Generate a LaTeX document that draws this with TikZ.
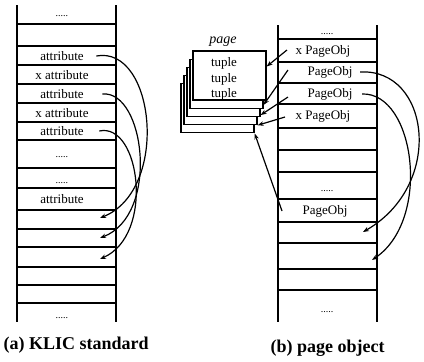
\documentclass[tikz,border=0pt]{standalone}
\usepackage{fontspec}
\setmainfont{Liberation Serif}
\usetikzlibrary{calc}
\usetikzlibrary{positioning}
\usetikzlibrary{arrows.meta}

\begin{document}
\begin{tikzpicture}[x=1pt,y=-1pt,line width=1.3pt,
    cell/.style={inner sep=0pt,font=\fontsize{13}{14}\selectfont},
    dots/.style={inner sep=0pt,anchor=base,font=\fontsize{10}{12}\selectfont},
    pagebox/.style={draw,fill=white,minimum width=73pt,minimum height=49pt,inner sep=0pt},
    link/.style={line width=1.2pt,-{Stealth[length=6pt,width=4.5pt]}},
    caption/.style={inner sep=0pt,anchor=west,font=\fontsize{18}{20}\selectfont\bfseries}]
\useasboundingbox (0,0) rectangle (424,362);
% (a) KLIC standard
\draw (17,5) -- (17,322);
\draw (116,5) -- (116,322);
\foreach \y in {24,46,65,84,103,122,140,168,188,210,229,247,267,285,303}
  \draw (17,\y) -- (116,\y);
\node[dots] (ad1) at (62,16) {.....};
\node[cell] (at1) at (62,56) {attribute};
\node[cell] (ax1) at (62,75) {x attribute};
\node[cell] (at2) at (62,94) {attribute};
\node[cell] (ax2) at (62,113) {x attribute};
\node[cell] (at3) at (62,131) {attribute};
\node[dots] (ad2) at (62,157) {.....};
\node[dots] (ad3) at (62,183) {.....};
\node[cell] (at4) at (62,199) {attribute};
\node[dots] (ad4) at (62,318) {.....};
\coordinate (ae1) at (100,218);
\coordinate (ae2) at (100,238);
\coordinate (ae3) at (100,259);
%
\draw[link] ([xshift=12pt]at1.east) .. controls (155,45) and (170,190) .. (ae1);
\draw[link] ([xshift=18pt]at2.east) .. controls (145,90) and (160,215) .. (ae2);
\draw[link] ([xshift=15pt]at3.east) .. controls (140,122) and (155,235) .. (ae3);
% (b) page object
\draw (278,25) -- (278,322);
\draw (377,25) -- (377,322);
\foreach \y in {39,62,83,104,128,150,172,199,222,243,269,290}
  \draw (278,\y) -- (377,\y);
\node[dots] (bd1) at (327,34) {.....};
\node[cell] (bx1) at (323,51) {x PageObj};
\node[cell] (bo1) at (330,72) {PageObj};
\node[cell] (bo2) at (330,94) {PageObj};
\node[cell] (bx2) at (323,116) {x PageObj};
\node[dots] (bd2) at (327,191) {.....};
\node[cell] (bo3) at (325,211) {PageObj};
\node[dots] (bd3) at (327,312) {.....};
% stack of pages
\foreach \k in {4,3,2,1,0}
  \node[pagebox] (pg\k) at (229.5-3*\k,75.5+8.2*\k) {};
\node[font=\fontsize{14}{16}\selectfont\itshape,inner sep=0pt] (pname) at (223,42) {page};
\node[cell] (tp1) at (224,63) {tuple};
\node[cell] (tp2) at (224,79) {tuple};
\node[cell] (tp3) at (224,94) {tuple};
%
\coordinate (bs1) at (287,50);
\coordinate (bs2) at (288,70);
\coordinate (bs3) at (288,97);
\coordinate (bs4) at (285,117);
\coordinate (bs5) at (282,211);
\draw[link] (bs1) -- ([yshift=9pt]pg0.east);
\draw[link] (bs2) -- ([yshift=4pt]pg1.south east);
\draw[link] (bs3) -- ([yshift=2pt]pg2.south east);
\draw[link] (bs4) -- (pg3.south east);
\draw[link] (bs5) -- (pg4.south east);
%
\coordinate (be1) at (363,232);
\coordinate (be2) at (372,260);
\draw[link] ([xshift=7pt]bo1.east) .. controls (430,68) and (445,185) .. (be1);
\draw[link] ([xshift=9pt]bo2.east) .. controls (415,92) and (432,220) .. (be2);
% captions
\node[caption] (capa) at (3,345) {(a) KLIC standard};
\node[caption] (capb) at (270,348) {(b) page object};
\end{tikzpicture}
\end{document}
